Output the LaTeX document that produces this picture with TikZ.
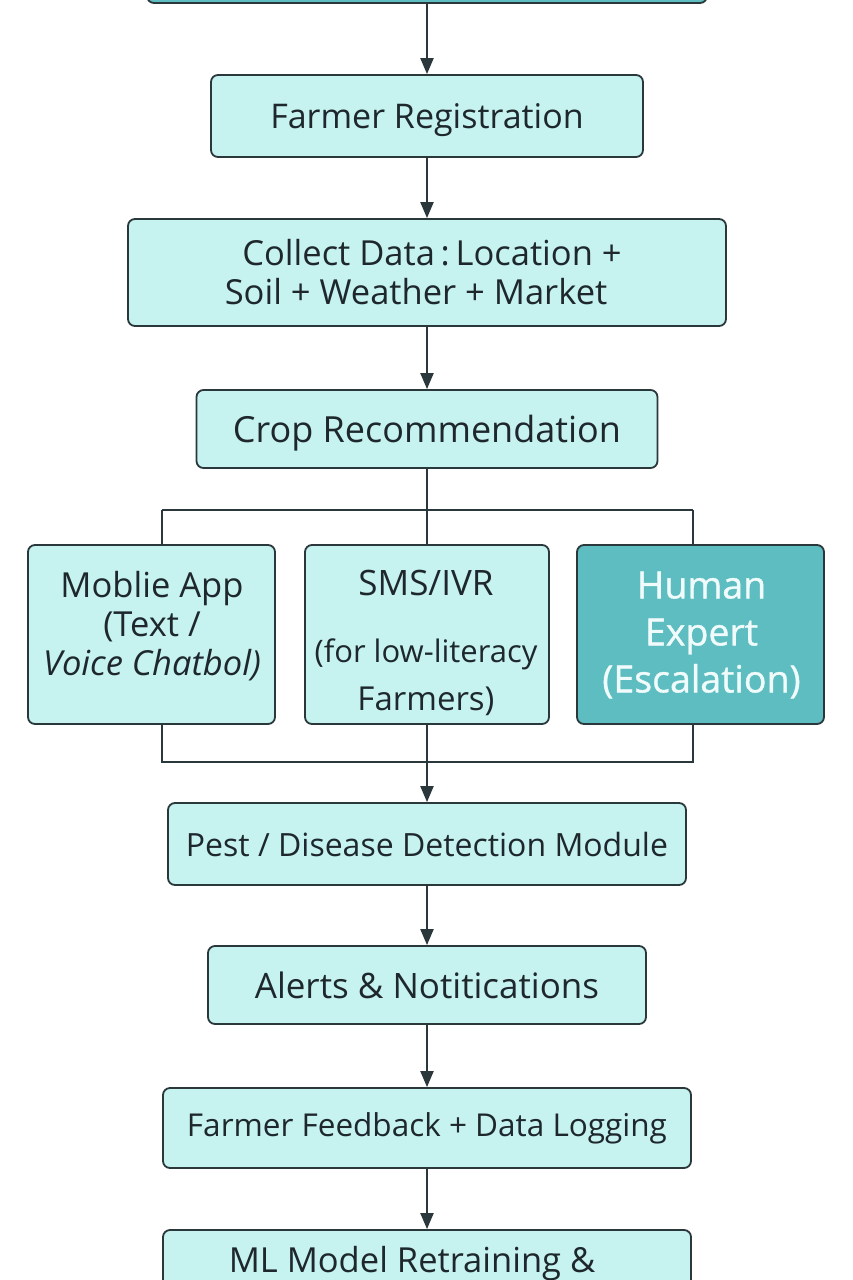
\documentclass[tikz,border=0pt]{standalone}
\usepackage{fontspec}
\setmainfont{Open Sans}
\newfontfamily\medfont[FakeBold=1]{Open Sans}
\usetikzlibrary{arrows.meta}
\definecolor{boxfill}{HTML}{C6F2F0}
\definecolor{darkfill}{HTML}{5DBDC0}
\definecolor{edge}{HTML}{2A373B}
\definecolor{ink}{HTML}{1E282C}
\definecolor{paletext}{HTML}{F0FBFB}
\tikzset{
  box/.style={draw=edge, line width=1.8pt, fill=boxfill, rounded corners=7pt,
    text=ink, align=center, inner sep=0pt},
  darkbox/.style={box, fill=darkfill, text=paletext},
  label text/.style={text=ink, align=center, inner sep=0pt},
  flow/.style={draw=edge, line width=2pt, -{Triangle[length=16pt,width=13pt]}},
  branch/.style={draw=edge, line width=1.5pt},
}
\begin{document}
\begin{tikzpicture}[x=1pt,y=-1pt]
\useasboundingbox (0,0) rectangle (852,1280);
\fill[white] (0,0) rectangle (852,1280);
\begin{scope}
\clip (0,0) rectangle (852,1280);
\node[darkbox, minimum width=560, minimum height=80] (top) at (427,-37) {};
\node[box, minimum width=432, minimum height=82, text depth=0pt, font=\fontsize{34}{40}\selectfont] (reg) at (427,116) {Farmer Registration};
\node[box, minimum width=598, minimum height=107, font=\fontsize{34.5}{41}\selectfont] (collect) at (427,272.5)
  {\hspace*{10pt}Collect Data\,:\,Location +\\[-2pt]Soil + Weather + Market\hspace*{22pt}};
\node[box, minimum width=461, minimum height=78, text depth=0pt, font=\fontsize{36}{42}\selectfont] (crop) at (427,429) {Crop Recommendation};

\node[box, minimum width=247, minimum height=179] (mobile) at (151.5,634.5) {};
\node[box, minimum width=244, minimum height=179] (sms) at (427,634.5) {};
\node[darkbox, minimum width=247, minimum height=179] (human) at (700.5,634.5) {};
\node[label text, font=\fontsize{34.5}{39}\selectfont] (mobiletext) at (152,626)
  {Moblie App\\(Text /\\\itshape Voice Chatbol)};
\node[label text, font=\fontsize{33}{39}\selectfont] (smstext) at (426,643)
  {{\fontsize{35}{39}\selectfont SMS/IVR}\\[28pt]{\fontsize{31}{39}\selectfont (for low-literacy}\\[9pt]Farmers)};
\node[label text, text=paletext, font=\fontsize{37.5}{45}\selectfont\medfont] (humantext) at (701.5,635)
  {Human\\[2pt]Expert\\[2pt](Escalation)};

\node[box, minimum width=518, minimum height=82, font=\fontsize{32}{38}\selectfont] (pest) at (427,844) {Pest / Disease Detection Module};
\node[box, minimum width=438, minimum height=78, font=\fontsize{35}{41}\selectfont] (alerts) at (427,985) {Alerts \& Notitications};
\node[box, minimum width=528, minimum height=80, font=\fontsize{31.5}{37}\selectfont] (feedback) at (427,1128) {Farmer Feedback + Data Logging};
\node[box, minimum width=528, minimum height=58, text depth=0pt, font=\fontsize{34.5}{41}\selectfont] (ml) at (427,1259) {ML Model Retraining \&\hspace*{30pt}};

\draw[flow] (top.south) -- (reg.north);
\draw[flow] (reg.south) -- (collect.north);
\draw[flow] (collect.south) -- (crop.north);

\coordinate (bl) at (162,510);
\coordinate (bm) at (427,510);
\coordinate (br) at (693,510);
\draw[branch] (crop.south) -- (bm);
\draw[branch] (bl) -- (br);
\draw[branch] (bl) -- (bl |- mobile.north);
\draw[branch] (bm) -- (sms.north);
\draw[branch] (br) -- (br |- human.north);

\coordinate (jl) at (162,762);
\coordinate (jr) at (693,762);
\draw[branch] (jl |- mobile.south) -- (jl) -- (jr) -- (jr |- human.south);
\draw[flow] (sms.south) -- (pest.north);

\draw[flow] (pest.south) -- (alerts.north);
\draw[flow] (alerts.south) -- (feedback.north);
\draw[flow] (feedback.south) -- (ml.north);
\end{scope}
\end{tikzpicture}
\end{document}
